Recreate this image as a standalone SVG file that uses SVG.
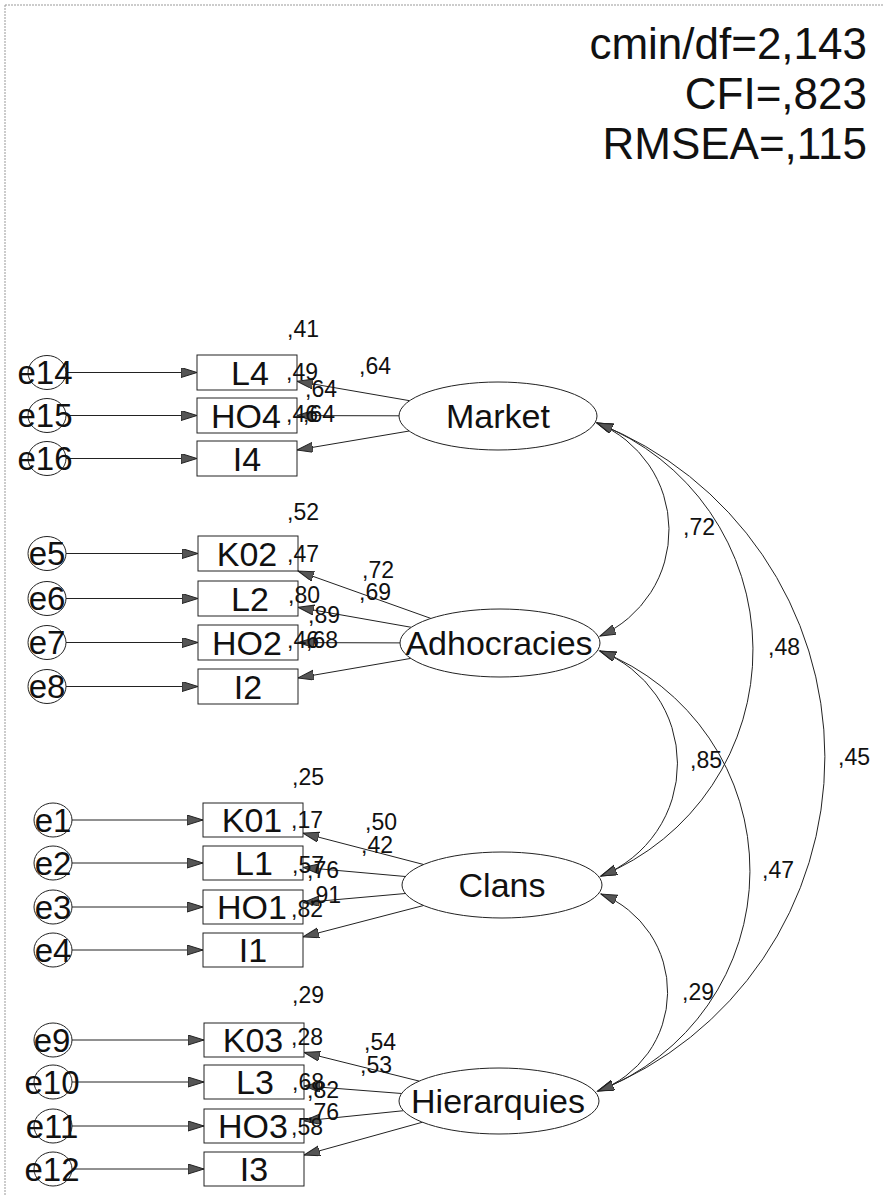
<svg xmlns="http://www.w3.org/2000/svg" width="889" height="1196" viewBox="0 0 889 1196">
<style>
text{font-family:"Liberation Sans",Arial,sans-serif;fill:#111}
.n{font-size:34px;text-anchor:middle}
.e{font-size:33px;text-anchor:middle}
.c{font-size:23px}
.fit{font-size:44px;text-anchor:end}
.box{fill:#fff;stroke:#222;stroke-width:1}
.ell{fill:#fff;stroke:#222;stroke-width:1}
.ln{fill:none;stroke:#222;stroke-width:1;marker-end:url(#ah)}
.arc{fill:none;stroke:#222;stroke-width:1;marker-start:url(#ah);marker-end:url(#ah)}
</style>
<defs>
<marker id="ah" markerUnits="userSpaceOnUse" markerWidth="18" markerHeight="12" refX="16" refY="5" orient="auto-start-reverse">
<path d="M0,0 L16,5 L0,10 z" fill="#555" stroke="#222" stroke-width="1"/>
</marker>
</defs>
<rect width="889" height="1196" fill="#fff"/>
<g id="border" stroke="#999" stroke-width="1" stroke-dasharray="2,1" fill="none">
<line x1="5" y1="5" x2="884" y2="5"/>
<line x1="5" y1="5" x2="5" y2="1196"/>
</g>
<g id="fit">
<text class="fit" x="867" y="59">cmin/df=2,143</text>
<text class="fit" x="867" y="109">CFI=,823</text>
<text class="fit" x="867" y="159">RMSEA=,115</text>
</g>
<g id="connectors">
<!-- error arrows -->
<line class="ln" x1="66" y1="372.5" x2="197" y2="372.5"/>
<line class="ln" x1="66" y1="415.5" x2="197" y2="415.5"/>
<line class="ln" x1="66" y1="458.5" x2="197" y2="458.5"/>
<line class="ln" x1="66" y1="553.5" x2="198" y2="553.5"/>
<line class="ln" x1="66" y1="598.5" x2="198" y2="598.5"/>
<line class="ln" x1="66" y1="642.5" x2="198" y2="642.5"/>
<line class="ln" x1="66" y1="686.5" x2="198" y2="686.5"/>
<line class="ln" x1="72" y1="820" x2="203" y2="820"/>
<line class="ln" x1="72" y1="863" x2="203" y2="863"/>
<line class="ln" x1="72" y1="907" x2="203" y2="907"/>
<line class="ln" x1="72" y1="950" x2="203" y2="950"/>
<line class="ln" x1="72" y1="1040" x2="204" y2="1040"/>
<line class="ln" x1="72" y1="1082" x2="204" y2="1082"/>
<line class="ln" x1="72" y1="1126" x2="204" y2="1126"/>
<line class="ln" x1="72" y1="1169" x2="204" y2="1169"/>
<!-- loadings -->
<line class="ln" x1="409.6" y1="400.7" x2="297" y2="381.2"/>
<line class="ln" x1="399" y1="415.8" x2="297" y2="415.6"/>
<line class="ln" x1="409.2" y1="431" x2="297" y2="450"/>
<line class="ln" x1="430.8" y1="618.4" x2="298" y2="571"/>
<line class="ln" x1="411.3" y1="627.3" x2="298" y2="607.3"/>
<line class="ln" x1="400" y1="642.9" x2="298" y2="642.6"/>
<line class="ln" x1="410.8" y1="658.4" x2="298" y2="677.9"/>
<line class="ln" x1="423.6" y1="864.5" x2="303" y2="833.1"/>
<line class="ln" x1="405.4" y1="876.5" x2="303" y2="867.4"/>
<line class="ln" x1="405.4" y1="893.5" x2="303" y2="902.6"/>
<line class="ln" x1="423.6" y1="905.5" x2="303" y2="936.9"/>
<line class="ln" x1="419.2" y1="1081.1" x2="304" y2="1052.4"/>
<line class="ln" x1="401.7" y1="1093.5" x2="304" y2="1085.9"/>
<line class="ln" x1="403.5" y1="1110.7" x2="304" y2="1120.9"/>
<line class="ln" x1="422.5" y1="1122.2" x2="304" y2="1155.1"/>
<!-- covariances -->
<path class="arc" d="M597,423 A115.7,115.7 0 0 1 600,636"/>
<path class="arc" d="M597,423 A243.6,243.6 0 0 1 601,876"/>
<path class="arc" d="M597,423 A359,359 0 0 1 598,1091"/>
<path class="arc" d="M600,651 A120.7,120.7 0 0 1 601,876"/>
<path class="arc" d="M600,651 A235.8,235.8 0 0 1 598,1091"/>
<path class="arc" d="M601,894 A105.3,105.3 0 0 1 598,1091"/>
</g>
<g id="Market"><ellipse class="ell" cx="498" cy="416" rx="99" ry="34"/><text class="n" x="498" y="428">Market</text></g>
<g id="Adhocracies"><ellipse class="ell" cx="500" cy="643" rx="100" ry="34"/><text class="n" x="499" y="655">Adhocracies</text></g>
<g id="Clans"><ellipse class="ell" cx="502" cy="885" rx="100" ry="33"/><text class="n" x="502" y="897">Clans</text></g>
<g id="Hierarquies"><ellipse class="ell" cx="499" cy="1101" rx="100" ry="33"/><text class="n" x="498" y="1113">Hierarquies</text></g>
<g id="L4"><rect class="box" x="197" y="355" width="100" height="35"/><text class="n" x="250" y="385">L4</text></g>
<g id="HO4"><rect class="box" x="197" y="398" width="100" height="35"/><text class="n" x="246" y="428">HO4</text></g>
<g id="I4"><rect class="box" x="197" y="441" width="100" height="35"/><text class="n" x="247" y="471">I4</text></g>
<g id="K02"><rect class="box" x="198" y="536" width="100" height="35"/><text class="n" x="247" y="566">K02</text></g>
<g id="L2"><rect class="box" x="198" y="581" width="100" height="35"/><text class="n" x="250" y="611">L2</text></g>
<g id="HO2"><rect class="box" x="198" y="625" width="100" height="35"/><text class="n" x="247" y="655">HO2</text></g>
<g id="I2"><rect class="box" x="198" y="669" width="100" height="35"/><text class="n" x="248" y="699">I2</text></g>
<g id="K01"><rect class="box" x="203" y="803" width="100" height="34"/><text class="n" x="252" y="832">K01</text></g>
<g id="L1"><rect class="box" x="203" y="846" width="100" height="34"/><text class="n" x="254" y="875">L1</text></g>
<g id="HO1"><rect class="box" x="203" y="890" width="100" height="34"/><text class="n" x="252" y="919">HO1</text></g>
<g id="I1"><rect class="box" x="203" y="933" width="100" height="34"/><text class="n" x="253" y="962">I1</text></g>
<g id="K03"><rect class="box" x="204" y="1023" width="100" height="34"/><text class="n" x="253" y="1052">K03</text></g>
<g id="L3"><rect class="box" x="204" y="1065" width="100" height="34"/><text class="n" x="255" y="1094">L3</text></g>
<g id="HO3"><rect class="box" x="204" y="1109" width="100" height="34"/><text class="n" x="253" y="1138">HO3</text></g>
<g id="I3"><rect class="box" x="204" y="1152" width="100" height="34"/><text class="n" x="254" y="1181">I3</text></g>
<g id="e14"><ellipse class="ell" cx="47" cy="372.5" rx="19" ry="17"/><text class="e" x="45" y="384">e14</text></g>
<g id="e15"><ellipse class="ell" cx="47" cy="415.5" rx="19" ry="17"/><text class="e" x="45" y="427">e15</text></g>
<g id="e16"><ellipse class="ell" cx="47" cy="458.5" rx="19" ry="17"/><text class="e" x="45" y="470">e16</text></g>
<g id="e5"><ellipse class="ell" cx="47" cy="553.5" rx="19" ry="17"/><text class="e" x="47" y="565">e5</text></g>
<g id="e6"><ellipse class="ell" cx="47" cy="598.5" rx="19" ry="17"/><text class="e" x="47" y="610">e6</text></g>
<g id="e7"><ellipse class="ell" cx="47" cy="642.5" rx="19" ry="17"/><text class="e" x="47" y="654">e7</text></g>
<g id="e8"><ellipse class="ell" cx="47" cy="686.5" rx="19" ry="17"/><text class="e" x="47" y="698">e8</text></g>
<g id="e1"><ellipse class="ell" cx="53" cy="820" rx="19" ry="17"/><text class="e" x="53" y="832">e1</text></g>
<g id="e2"><ellipse class="ell" cx="53" cy="863" rx="19" ry="17"/><text class="e" x="53" y="875">e2</text></g>
<g id="e3"><ellipse class="ell" cx="53" cy="907" rx="19" ry="17"/><text class="e" x="53" y="919">e3</text></g>
<g id="e4"><ellipse class="ell" cx="53" cy="950" rx="19" ry="17"/><text class="e" x="53" y="962">e4</text></g>
<g id="e9"><ellipse class="ell" cx="53" cy="1040" rx="19" ry="17"/><text class="e" x="52" y="1052">e9</text></g>
<g id="e10"><ellipse class="ell" cx="53" cy="1082" rx="19" ry="17"/><text class="e" x="52" y="1094">e10</text></g>
<g id="e11"><ellipse class="ell" cx="53" cy="1126" rx="19" ry="17"/><text class="e" x="52" y="1138">e11</text></g>
<g id="e12"><ellipse class="ell" cx="53" cy="1169" rx="19" ry="17"/><text class="e" x="52" y="1181">e12</text></g>
<g id="labels">
<text class="c" x="287" y="337">,41</text>
<text class="c" x="359" y="374">,64</text>
<text class="c" x="286" y="380">,49</text>
<text class="c" x="305" y="397">,64</text>
<text class="c" x="286" y="422">,46</text>
<text class="c" x="303" y="422">,64</text>
<text class="c" x="287" y="520">,52</text>
<text class="c" x="287" y="562">,47</text>
<text class="c" x="362" y="578">,72</text>
<text class="c" x="359" y="600">,69</text>
<text class="c" x="288" y="603">,80</text>
<text class="c" x="308" y="623">,89</text>
<text class="c" x="287" y="648">,46</text>
<text class="c" x="306" y="648">,68</text>
<text class="c" x="292" y="785">,25</text>
<text class="c" x="291" y="828">,17</text>
<text class="c" x="365" y="830">,50</text>
<text class="c" x="361" y="853">,42</text>
<text class="c" x="292" y="873">,57</text>
<text class="c" x="307" y="878">,76</text>
<text class="c" x="309" y="903">,91</text>
<text class="c" x="291" y="917">,82</text>
<text class="c" x="292" y="1003">,29</text>
<text class="c" x="291" y="1045">,28</text>
<text class="c" x="364" y="1050">,54</text>
<text class="c" x="360" y="1073">,53</text>
<text class="c" x="292" y="1090">,68</text>
<text class="c" x="307" y="1098">,82</text>
<text class="c" x="307" y="1120">,76</text>
<text class="c" x="291" y="1135">,58</text>
<text class="c" x="683" y="535">,72</text>
<text class="c" x="768" y="655">,48</text>
<text class="c" x="838" y="765">,45</text>
<text class="c" x="690" y="768">,85</text>
<text class="c" x="762" y="878">,47</text>
<text class="c" x="682" y="1000">,29</text>
</g>
</svg>
